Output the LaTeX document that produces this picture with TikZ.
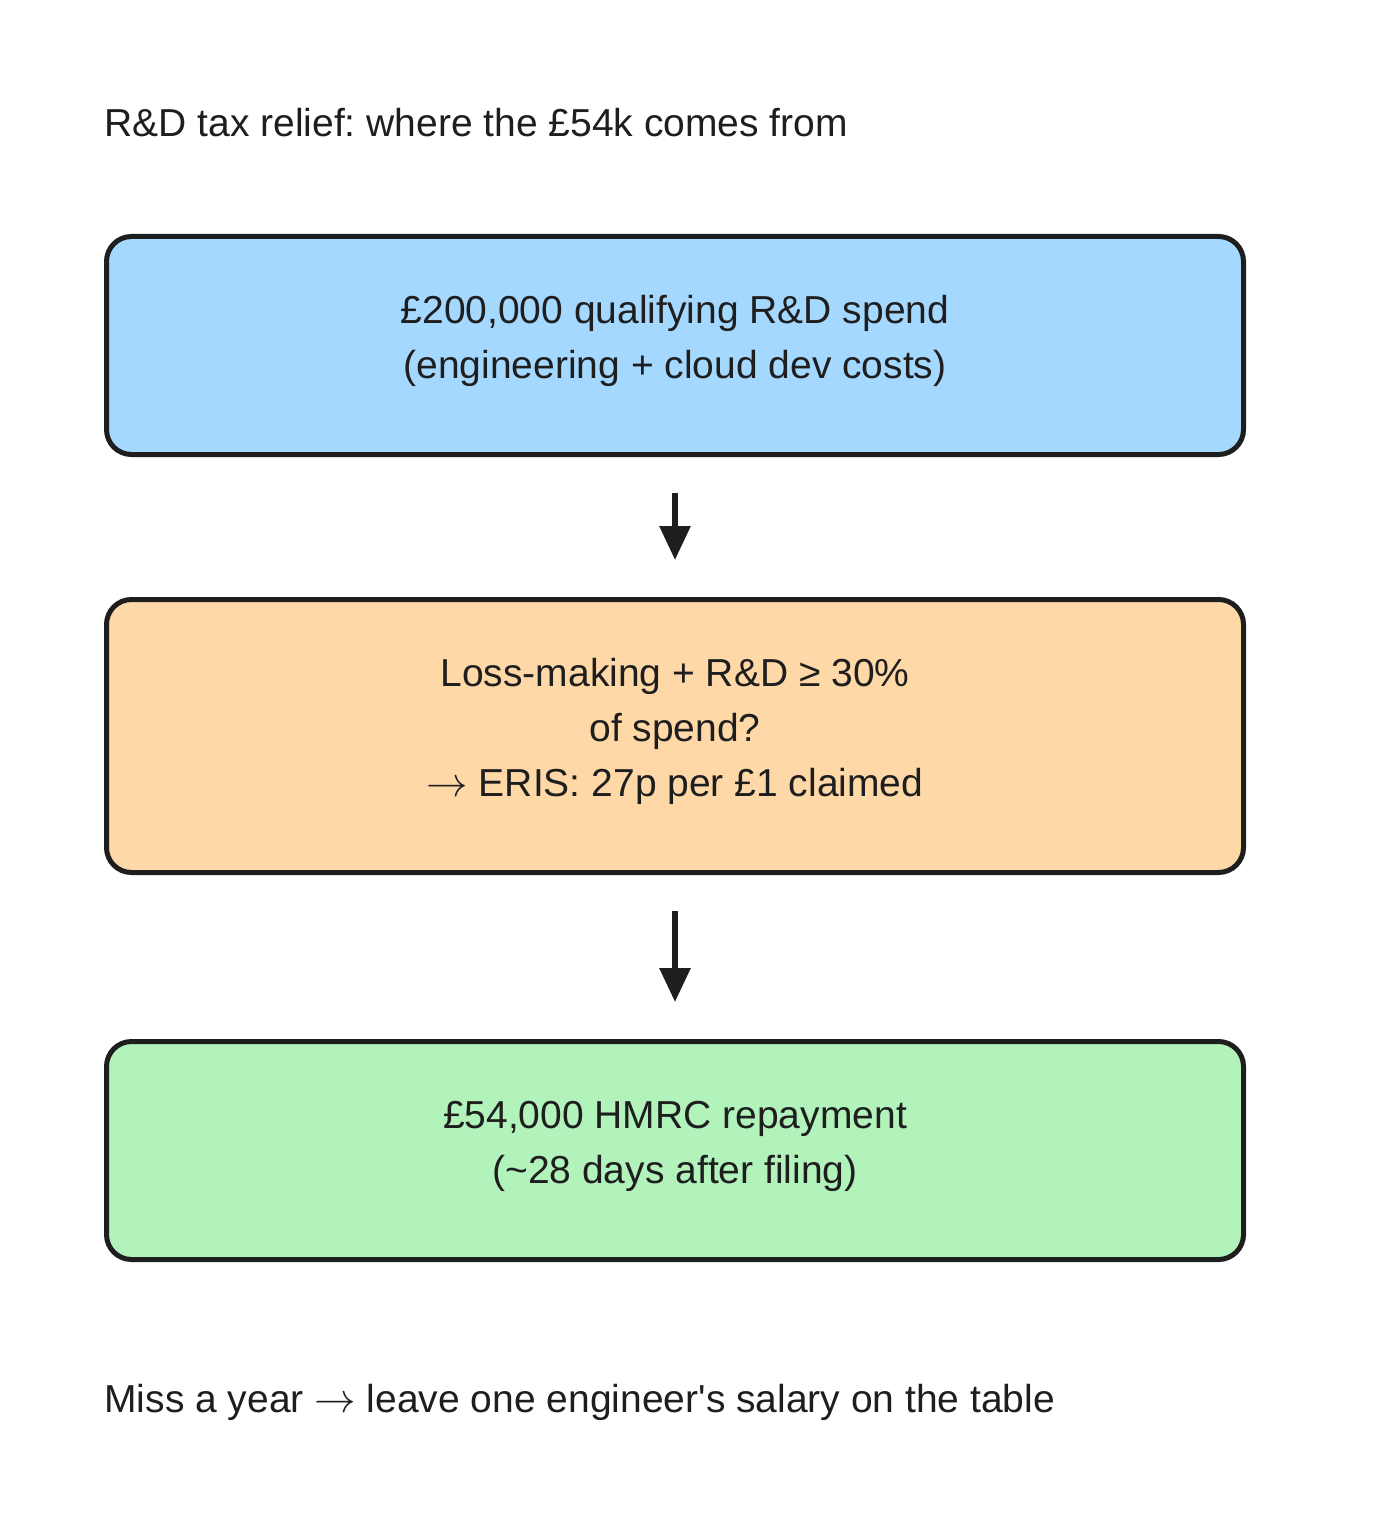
\documentclass[tikz,border=0pt]{standalone}
\usepackage{fontspec}
\setmainfont{Liberation Sans}
\usepackage{tikz}
\usetikzlibrary{arrows.meta,positioning}

\definecolor{inkdark}{HTML}{1E1E1E}
\definecolor{spendblue}{HTML}{A5D8FF}
\definecolor{ruleorange}{HTML}{FFD8A8}
\definecolor{cashgreen}{HTML}{B2F2BB}
\newcommand{\thinto}{$\rightarrow$}
\frenchspacing

\begin{document}
\begin{tikzpicture}[
        x=0.5pt,
        y=-0.5pt,
        font=\fontsize{19.5pt}{27.5pt}\selectfont,
        stagebox/.style={draw=inkdark, line width=2.5pt, rounded corners=12.5pt,
            minimum width=568.5pt, inner sep=0pt, align=center, text=inkdark,
            execute at end node={\rule[-8.2pt]{0pt}{0pt}}},
        flow/.style={draw=inkdark, line width=3pt,
            -{Triangle[length=17pt, width=15pt]}, shorten <=18pt, shorten >=18.5pt},
        caption/.style={anchor=base west, inner sep=0pt, text=inkdark}
    ]
        \useasboundingbox (0,0) rectangle (1400,1535);

        \node[caption] (title) at (104,137) {R\&D tax relief: where the £54k comes from};

        \node[stagebox, fill=spendblue, minimum height=109pt] (spend) at (675,345.5)
            {£200,000 qualifying R\&D spend\\(engineering + cloud dev costs)};
        \node[stagebox, fill=ruleorange, minimum height=136.5pt] (eris) at (675,736)
            {Loss-making + R\&D ≥ 30\%\\of spend?\\\thinto{} ERIS: 27p per £1 claimed};
        \node[stagebox, fill=cashgreen, minimum height=109pt] (repay) at (675,1150.5)
            {£54,000 HMRC repayment\\(\textasciitilde 28 days after filing)};

        \draw[flow] (spend) -- (eris);
        \draw[flow] (eris) -- (repay);

        \node[caption] (moral) at (104,1412)
            {Miss a year \thinto{} leave one engineer\textquotesingle s salary on the table};
    \end{tikzpicture}
\end{document}
